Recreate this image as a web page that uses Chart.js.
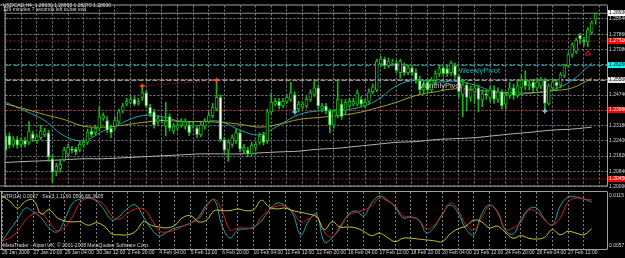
<!DOCTYPE html>
<html>
<head>
<meta charset="utf-8">
<script src="https://cdn.jsdelivr.net/npm/chart.js@4.4.1/dist/chart.umd.min.js"></script>
<style>
html,body{margin:0;padding:0;background:#000;}
#wrap{position:relative;width:625px;height:258px;background:#000;overflow:hidden;}
#main{position:absolute;left:0;top:0;}
#sub{position:absolute;left:0;top:191px;}
</style>
</head>
<body>
<div id="wrap">
<canvas id="main" width="625" height="192"></canvas>
<canvas id="sub" width="625" height="67"></canvas>
</div>
<script>
// USDCAD H4 K线数据（从截图读取）
const opens = [1.2266,1.2266,1.2222,1.2246,1.2222,1.2241,1.2232,1.2276,1.2241,1.2256,1.2271,1.2281,1.2148,1.2085,1.2099,1.2143,1.2173,1.2197,1.2197,1.2192,
  1.2217,1.2232,1.2290,1.2281,1.2305,1.2354,1.2344,1.2305,1.2315,1.2339,1.2393,1.2428,1.2437,1.2452,1.2432,1.2462,1.2486,1.2413,1.2388,1.2339,
  1.2344,1.2315,1.2364,1.2290,1.2305,1.2320,1.2315,1.2320,1.2315,1.2305,1.2271,1.2315,1.2339,1.2369,1.2403,1.2462,1.2246,1.2192,1.2222,1.2241,
  1.2281,1.2192,1.2192,1.2173,1.2207,1.2232,1.2271,1.2241,1.2388,1.2428,1.2442,1.2418,1.2442,1.2452,1.2477,1.2403,1.2413,1.2418,1.2452,1.2477,
  1.2511,1.2403,1.2418,1.2393,1.2320,1.2369,1.2428,1.2393,1.2418,1.2428,1.2428,1.2452,1.2418,1.2442,1.2491,1.2501,1.2633,1.2658,1.2624,1.2638,
  1.2638,1.2589,1.2624,1.2589,1.2614,1.2589,1.2550,1.2501,1.2540,1.2501,1.2550,1.2584,1.2614,1.2609,1.2589,1.2624,1.2570,1.2477,1.2526,1.2462,
  1.2491,1.2511,1.2452,1.2481,1.2462,1.2501,1.2452,1.2491,1.2428,1.2472,1.2511,1.2472,1.2511,1.2550,1.2521,1.2540,1.2511,1.2521,1.2550,1.2432,
  1.2511,1.2540,1.2526,1.2575,1.2624,1.2682,1.2697,1.2780,1.2756,1.2746,1.2795,1.2863];
const highs = [1.2281,1.2281,1.2261,1.2261,1.2256,1.2256,1.2339,1.2290,1.2276,1.2320,1.2305,1.2295,1.2168,1.2124,1.2143,1.2207,1.2222,1.2212,1.2207,1.2236,
  1.2246,1.2300,1.2305,1.2320,1.2413,1.2383,1.2364,1.2320,1.2364,1.2403,1.2432,1.2457,1.2467,1.2467,1.2457,1.2526,1.2496,1.2428,1.2403,1.2369,
  1.2359,1.2437,1.2378,1.2330,1.2334,1.2354,1.2354,1.2334,1.2334,1.2320,1.2334,1.2354,1.2388,1.2432,1.2550,1.2477,1.2256,1.2246,1.2271,1.2300,
  1.2290,1.2222,1.2207,1.2232,1.2236,1.2281,1.2285,1.2403,1.2486,1.2457,1.2457,1.2457,1.2477,1.2540,1.2491,1.2442,1.2442,1.2467,1.2501,1.2550,
  1.2526,1.2432,1.2432,1.2403,1.2403,1.2550,1.2452,1.2452,1.2457,1.2457,1.2501,1.2467,1.2452,1.2506,1.2530,1.2658,1.2673,1.2668,1.2663,1.2658,
  1.2653,1.2658,1.2638,1.2628,1.2628,1.2609,1.2570,1.2550,1.2555,1.2565,1.2599,1.2628,1.2624,1.2628,1.2648,1.2638,1.2579,1.2550,1.2540,1.2521,
  1.2530,1.2526,1.2501,1.2501,1.2521,1.2521,1.2511,1.2501,1.2486,1.2540,1.2530,1.2550,1.2575,1.2599,1.2550,1.2555,1.2560,1.2565,1.2560,1.2530,
  1.2555,1.2555,1.2589,1.2633,1.2692,1.2741,1.2766,1.2790,1.2771,1.2820,1.2854,1.28955];
const lows = [1.2168,1.2202,1.2207,1.2202,1.2207,1.2207,1.2222,1.2236,1.2227,1.2246,1.2261,1.2134,1.2026,1.2060,1.2080,1.2134,1.2158,1.2178,1.2168,1.2183,
  1.2207,1.2222,1.2261,1.2271,1.2295,1.2344,1.2281,1.2256,1.2300,1.2330,1.2383,1.2418,1.2428,1.2418,1.2423,1.2447,1.2408,1.2364,1.2305,1.2325,
  1.2330,1.2266,1.2290,1.2276,1.2295,1.2310,1.2300,1.2266,1.2305,1.2256,1.2261,1.2300,1.2330,1.2359,1.2393,1.2236,1.2178,1.2134,1.2207,1.2227,
  1.2183,1.2178,1.2158,1.2163,1.2192,1.2222,1.2217,1.2227,1.2378,1.2418,1.2403,1.2408,1.2432,1.2442,1.2378,1.2388,1.2403,1.2408,1.2442,1.2467,
  1.2403,1.2388,1.2378,1.2281,1.2305,1.2359,1.2349,1.2378,1.2408,1.2418,1.2418,1.2413,1.2408,1.2432,1.2481,1.2491,1.2619,1.2609,1.2614,1.2628,
  1.2589,1.2560,1.2575,1.2579,1.2575,1.2535,1.2481,1.2477,1.2486,1.2491,1.2530,1.2570,1.2570,1.2570,1.2575,1.2560,1.2462,1.2364,1.2393,1.2442,
  1.2432,1.2388,1.2413,1.2452,1.2442,1.2432,1.2437,1.2403,1.2403,1.2457,1.2452,1.2462,1.2491,1.2501,1.2501,1.2491,1.2496,1.2506,1.2398,1.2423,
  1.2501,1.2501,1.2511,1.2565,1.2614,1.2668,1.2687,1.2736,1.2726,1.2722,1.2785,1.2837];
const closes = [1.2192,1.2217,1.2246,1.2217,1.2241,1.2222,1.2290,1.2251,1.2261,1.2290,1.2290,1.2158,1.2080,1.2109,1.2119,1.2192,1.2207,1.2192,1.2183,1.2222,
  1.2232,1.2285,1.2271,1.2305,1.2364,1.2369,1.2295,1.2281,1.2344,1.2388,1.2418,1.2442,1.2452,1.2428,1.2442,1.2486,1.2418,1.2378,1.2320,1.2354,
  1.2342,1.2339,1.2305,1.2315,1.2320,1.2339,1.2339,1.2281,1.2320,1.2271,1.2320,1.2339,1.2369,1.2413,1.2462,1.2246,1.2192,1.2232,1.2256,1.2281,
  1.2197,1.2207,1.2173,1.2217,1.2222,1.2266,1.2232,1.2388,1.2437,1.2442,1.2418,1.2442,1.2462,1.2486,1.2393,1.2428,1.2428,1.2452,1.2486,1.2511,
  1.2418,1.2418,1.2393,1.2320,1.2393,1.2452,1.2364,1.2437,1.2442,1.2442,1.2486,1.2428,1.2437,1.2491,1.2516,1.2648,1.2658,1.2624,1.2648,1.2643,
  1.2599,1.2648,1.2589,1.2614,1.2589,1.2550,1.2501,1.2530,1.2501,1.2550,1.2584,1.2609,1.2584,1.2584,1.2638,1.2575,1.2491,1.2526,1.2462,1.2501,
  1.2511,1.2452,1.2481,1.2472,1.2501,1.2452,1.2491,1.2418,1.2472,1.2511,1.2472,1.2521,1.2550,1.2521,1.2530,1.2511,1.2540,1.2550,1.2432,1.2521,
  1.2540,1.2521,1.2579,1.2624,1.2682,1.2731,1.2756,1.2761,1.2746,1.2810,1.2844,1.2893];

// 均线，每 5 根K线读一个值
const maFast = [1.2437,1.2393,1.2344,1.2266,1.2241,1.2290,1.2334,1.2369,1.2364,1.2339,1.2339,1.2339,1.2295,1.2271,1.2320,1.2374,1.2393,1.2398,1.2408,1.2447,1.2521,1.2550,1.2540,1.2545,1.2526,1.2491,1.2477,1.2486,1.2501,1.2550,1.2638];
const maSlow = [1.2428,1.2403,1.2374,1.2349,1.2315,1.2310,1.2320,1.2334,1.2344,1.2339,1.2339,1.2334,1.2325,1.2310,1.2325,1.2349,1.2359,1.2369,1.2383,1.2408,1.2437,1.2472,1.2491,1.2506,1.2501,1.2491,1.2486,1.2486,1.2496,1.2511,1.2560];
const maLong = [1.2129,1.2134,1.2138,1.2143,1.2148,1.2148,1.2153,1.2158,1.2163,1.2168,1.2173,1.2173,1.2173,1.2178,1.2183,1.2187,1.2197,1.2202,1.2212,1.2222,1.2232,1.2236,1.2246,1.2251,1.2256,1.2266,1.2276,1.2285,1.2295,1.2300,1.2310];

// 副图指标，每 2 根K线读一个值
const stoMain = [8,30,52,74,66,54,34,26,52,84,92,94,88,70,50,58,74,80,56,32,18,26,34,38,44,56,80,90,38,14,30,32,36,48,70,84,78,62,20,48,62,6,14,34,60,68,58,84,98,90,76,54,56,50,24,36,62,80,64,32,20,62,80,66,30,22,50,72,74,52,40,78,96,96,92,86];
const stoSignal = [8,14,28,50,62,64,46,28,36,58,86,94,90,80,58,52,64,72,72,52,28,26,30,38,44,52,76,92,68,30,34,34,34,56,70,78,78,66,46,52,58,26,16,38,58,66,70,78,94,88,78,58,56,50,32,40,60,84,70,40,30,54,78,68,32,34,46,70,66,50,40,54,86,94,92,90];
const atr = [0.0115,0.0109,0.0101,0.0109,0.0110,0.0094,0.0099,0.0090,0.0086,0.0085,0.0085,0.0081,0.0084,0.0080,0.0071,0.0070,0.0070,0.0074,0.0085,0.0081,0.0079,0.0078,0.0081,0.0090,0.0092,0.0085,0.0087,0.0098,0.0098,0.0098,0.0100,0.0098,0.0099,0.0110,0.0102,0.0100,0.0101,0.0098,0.0096,0.0094,0.0091,0.0076,0.0085,0.0079,0.0079,0.0078,0.0074,0.0069,0.0072,0.0067,0.0062,0.0066,0.0066,0.0065,0.0064,0.0063,0.0062,0.0071,0.0077,0.0080,0.0087,0.0085,0.0078,0.0080,0.0073,0.0066,0.0069,0.0066,0.0065,0.0067,0.0076,0.0070,0.0074,0.0072,0.0070,0.0077];

// 水平线：现价、阻力、周枢轴、月枢轴、支撑
const levelValues = [1.2893, 1.2751, 1.2626, 1.2550, 1.2396, 1.2045];
const priceTicks = [1.2864, 1.2786, 1.2708, 1.2630, 1.2552, 1.2474, 1.2396, 1.2318, 1.2240, 1.2162, 1.2084, 1.2006];
const timeTicks = ['26 Jan 2009','27 Jan 20:00','29 Jan 04:00','30 Jan 12:00','2 Feb 20:00','4 Feb 04:00','5 Feb 12:00','6 Feb 20:00','10 Feb 04:00','11 Feb 12:00','12 Feb 20:00','16 Feb 04:00','17 Feb 12:00','18 Feb 20:00','20 Feb 04:00','23 Feb 12:00','24 Feb 20:00','26 Feb 04:00','27 Feb 12:00'];

// 分形、信号和箭头
const fractalBars = [35, 54];
const fractalPrices = [1.2521, 1.2550];
const signalBars = [74, 138];
const signalPrices = [1.2388, 1.2393];
const arrowBars = [149];
const arrowPrices = [1.2687];

const X_MIN = 0, X_MAX = 153.9;
const FONT = '"Liberation Sans", Arial, sans-serif';
const GREEN = '#16b416';
const GRID = 'rgba(150,150,160,0.85)';

const levelStyle = [
  {color: '#8c8c8c', dash: [], box: '#ffffff', text: '#000000'},
  {color: '#b41e1e', dash: [2, 2], box: '#ff0000', text: '#ffffff'},
  {color: '#1aa0a0', dash: [5, 3], box: '#00ffff', text: '#000000'},
  {color: '#c8c8c8', dash: [5, 2], box: '#e8e8e8', text: '#000000'},
  {color: '#b41e1e', dash: [2, 2], box: '#ff0000', text: '#ffffff'},
  {color: '#b41e1e', dash: [2, 2], box: '#ff0000', text: '#ffffff'}
];

function xTicksEvery4(scale) {
  const t = [];
  for (let v = 0; v <= 152; v += 4) t.push({value: v});
  scale.ticks = t;
}

const mainDecor = {
  id: 'mainDecor',
  afterDraw(chart) {
    const {ctx, chartArea: a, scales: {x, y}} = chart;
    ctx.save();
    ctx.strokeStyle = '#a0a0a0';
    ctx.lineWidth = 1;
    ctx.beginPath();
    ctx.moveTo(0, a.top - 0.5); ctx.lineTo(a.right + 0.5, a.top - 0.5);
    ctx.moveTo(a.left - 0.5, a.top); ctx.lineTo(a.left - 0.5, a.bottom);
    ctx.moveTo(a.right + 0.5, a.top); ctx.lineTo(a.right + 0.5, a.bottom);
    ctx.moveTo(0, a.bottom - 0.5); ctx.lineTo(a.right + 0.5, a.bottom - 0.5);
    ctx.stroke();

    ctx.font = '5px ' + FONT;
    ctx.textBaseline = 'middle';
    ctx.textAlign = 'left';
    ctx.fillStyle = '#d8d8d8';
    priceTicks.forEach(v => ctx.fillText(v.toFixed(5), a.right + 2, y.getPixelForValue(v)));
    levelValues.forEach((v, k) => {
      const py = Math.round(y.getPixelForValue(v));
      ctx.fillStyle = levelStyle[k].box;
      ctx.fillRect(a.right + 1, py - 3, 20, 6);
      ctx.fillStyle = levelStyle[k].text;
      ctx.fillText(v.toFixed(5), a.right + 2, py);
    });

    ctx.fillStyle = '#d8d8d8';
    ctx.fillText('USDCAD,H4  1.28630 1.28955 1.28370 1.28930', 3, 5.5);
    ctx.fillText('129 minutes 7 seconds left to bar end', 3, 10);

    ctx.font = '7.5px ' + FONT;
    ctx.textBaseline = 'top';
    ctx.fillStyle = '#20b4b4';
    ctx.fillText('WeeklyPivot', x.getPixelForValue(116), y.getPixelForValue(levelValues[2]) + 2);
    ctx.fillStyle = '#d0d0d0';
    ctx.fillText('MonthlyPivot', x.getPixelForValue(105.7), y.getPixelForValue(levelValues[3]) + 2);
    ctx.restore();
  }
};

const subDecor = {
  id: 'subDecor',
  afterDraw(chart) {
    const {ctx, chartArea: a} = chart;
    ctx.save();
    ctx.strokeStyle = '#a0a0a0';
    ctx.lineWidth = 1;
    ctx.beginPath();
    ctx.moveTo(0, a.top - 0.5); ctx.lineTo(a.right + 0.5, a.top - 0.5);
    ctx.moveTo(a.left - 0.5, a.top); ctx.lineTo(a.left - 0.5, a.bottom);
    ctx.moveTo(a.right + 0.5, a.top); ctx.lineTo(a.right + 0.5, a.bottom);
    ctx.moveTo(0, a.bottom + 0.5); ctx.lineTo(a.right + 0.5, a.bottom + 0.5);
    ctx.stroke();
    ctx.font = '5px ' + FONT;
    ctx.textBaseline = 'middle';
    ctx.fillStyle = '#d8d8d8';
    const ya = chart.scales.atr;
    ctx.fillText('0.0115', a.right + 2, ya.getPixelForValue(0.0115));
    ctx.fillText('0.0057', a.right + 2, ya.getPixelForValue(0.0057));
    ctx.fillText('ATR(14) 0.0067   Sto(3,1,1) 90.0596 66.3605', 3, a.top + 5);
    ctx.fillText('MetaTrader - Alpari UK, \u00a9 2001-2008 MetaQuotes Software Corp.', 3, a.bottom - 3);
    ctx.restore();
  }
};

const xGrid = {color: GRID, lineWidth: 1, drawTicks: false, offset: false};
const lineOpts = {borderWidth: 1, pointRadius: 0, tension: 0.4};

new Chart(document.getElementById('main'), {
  data: {
    datasets: [
      ...levelValues.map((v, k) => ({
        type: 'line', data: [{x: X_MIN, y: v}, {x: X_MAX, y: v}],
        borderColor: levelStyle[k].color, borderWidth: 1, borderDash: levelStyle[k].dash,
        pointRadius: 0, order: 5
      })),
      {type: 'line', data: fractalBars.map((b, k) => ({x: b, y: fractalPrices[k]})),
        borderColor: '#d02020', borderWidth: 1, borderDash: [1, 2], pointRadius: 0, order: 4},
      {type: 'line', data: maLong.map((v, k) => ({x: k * 5, y: v})), borderColor: '#b4b4b4', ...lineOpts, order: 3},
      {type: 'line', data: maSlow.map((v, k) => ({x: k * 5, y: v})), borderColor: '#a0a028', ...lineOpts, order: 3},
      {type: 'line', data: maFast.map((v, k) => ({x: k * 5, y: v})), borderColor: '#1fa5a8', ...lineOpts, order: 3},
      {type: 'bar', data: closes.map((c, i) => ({x: i, y: [lows[i], highs[i]]})),
        backgroundColor: GREEN, barThickness: 1, grouped: false, order: 2},
      {type: 'bar', data: closes.map((c, i) => ({x: i, y: [opens[i], c]})),
        backgroundColor: closes.map((c, i) => c >= opens[i] ? '#000000' : '#ffffff'),
        borderColor: GREEN, borderWidth: 1, borderSkipped: false, barThickness: 3, minBarLength: 1, grouped: false, order: 1},
      {type: 'scatter', data: fractalBars.map((b, k) => ({x: b, y: fractalPrices[k]})),
        pointStyle: 'cross', pointRadius: 2.5, borderColor: '#ff5020', borderWidth: 1.5, order: 0},
      {type: 'scatter', data: signalBars.map((b, k) => ({x: b, y: signalPrices[k]})),
        pointStyle: 'cross', pointRadius: 2.5, borderColor: '#7ec8e8', borderWidth: 1.5, order: 0},
      {type: 'scatter', data: arrowBars.map((b, k) => ({x: b, y: arrowPrices[k]})),
        pointStyle: 'triangle', pointRadius: 3, borderColor: '#e02020', backgroundColor: 'rgba(0,0,0,0)', borderWidth: 1, order: 0}
    ]
  },
  options: {
    responsive: false, animation: false, events: [],
    layout: {padding: {left: 2, top: 2, right: 0, bottom: 1}},
    plugins: {legend: {display: false}, tooltip: {enabled: false}},
    scales: {
      x: {type: 'linear', min: X_MIN, max: X_MAX, offset: false,
        afterBuildTicks: xTicksEvery4, afterFit: s => { s.height = 0; },
        ticks: {display: false}, grid: xGrid, border: {display: false, dash: [2, 2]}},
      y: {type: 'linear', position: 'right', min: 1.2006, max: 1.29327,
        afterBuildTicks: s => { s.ticks = priceTicks.map(v => ({value: v})); },
        afterFit: s => { s.width = 18; },
        ticks: {display: false}, grid: {color: GRID, drawTicks: false}, border: {display: false, dash: [2, 2]}}
    }
  },
  plugins: [mainDecor]
});

new Chart(document.getElementById('sub'), {
  data: {
    datasets: [
      {type: 'line', data: atr.map((v, k) => ({x: k * 2, y: v})), yAxisID: 'atr', borderColor: '#c8c832', ...lineOpts},
      {type: 'line', data: stoSignal.map((v, k) => ({x: k * 2, y: v})), yAxisID: 'sto', borderColor: '#d02020', ...lineOpts},
      {type: 'line', data: stoMain.map((v, k) => ({x: k * 2, y: v})), yAxisID: 'sto', borderColor: '#20a0a0', ...lineOpts}
    ]
  },
  options: {
    responsive: false, animation: false, events: [],
    layout: {padding: {left: 2, top: 1, right: 0, bottom: 0}},
    plugins: {legend: {display: false}, tooltip: {enabled: false}},
    scales: {
      x: {type: 'linear', min: X_MIN, max: X_MAX, offset: false,
        afterBuildTicks: xTicksEvery4, afterFit: s => { s.height = 9; },
        ticks: {autoSkip: false, maxRotation: 0, align: 'start', padding: 1, color: '#d8d8d8', font: {size: 5, family: FONT},
          callback: v => (v % 8 === 0 ? timeTicks[v / 8] : '')},
        grid: xGrid, border: {display: false, dash: [2, 2]}},
      atr: {type: 'linear', position: 'right', min: 0.00535, max: 0.01196,
        afterFit: s => { s.width = 18; }, ticks: {display: false}, grid: {display: false}, border: {display: false}},
      sto: {type: 'linear', display: false, min: -8, max: 106}
    }
  },
  plugins: [subDecor]
});
</script>
</body>
</html>
